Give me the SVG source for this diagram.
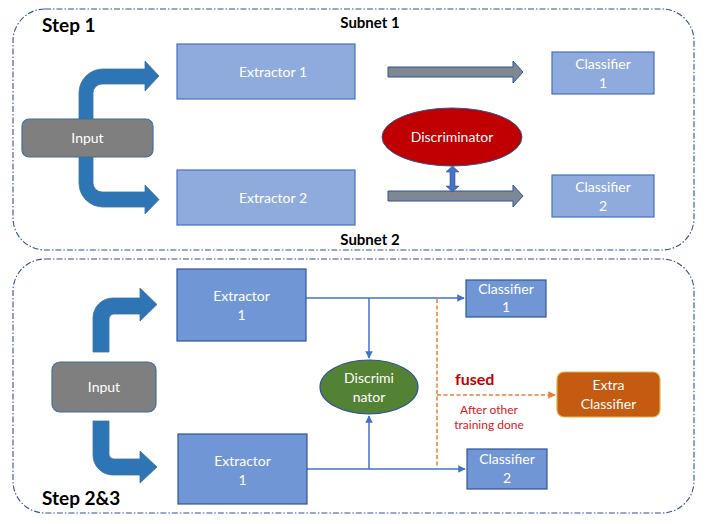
<svg xmlns="http://www.w3.org/2000/svg" width="706" height="524" viewBox="0 0 706 524">
<defs>
<style>
.frame{fill:none;stroke:#2F5597;stroke-width:1.1;stroke-dasharray:6 2 1.5 2}
.t{font-family:Lato,"Open Sans","Liberation Sans",sans-serif}
.w{fill:#fff;font-size:14px;text-anchor:middle}
.b{font-weight:bold;fill:#000}
.ext1{fill:#8FAADC;stroke:#4472C4;stroke-width:1.2}
.ext2{fill:#7196D5;stroke:#2F5597;stroke-width:1.2}
.bent{fill:#2E75B6;stroke:#41719C;stroke-width:0.8}
.gray{fill:#7F8792;stroke:#2F5597;stroke-width:1}
.ln{stroke:#4472C4;stroke-width:1.5;fill:none}
.dash{stroke:#ED7D31;stroke-width:1.5;fill:none;stroke-dasharray:4 2.5}
</style>
<marker id="ab" viewBox="0 0 10 10" refX="9" refY="5" markerWidth="5" markerHeight="5" orient="auto"><path d="M0,0 L10,5 L0,10 Z" fill="#4472C4"/></marker>
<marker id="ao" viewBox="0 0 10 10" refX="9" refY="5" markerWidth="5" markerHeight="5" orient="auto"><path d="M0,0 L10,5 L0,10 Z" fill="#ED7D31"/></marker>
</defs>
<rect width="706" height="524" fill="#fff"/>
<rect class="frame" x="13" y="9" width="681" height="241" rx="32"/>
<rect class="frame" x="13" y="259" width="681" height="254" rx="32"/>
<text class="t b" x="42" y="32" font-size="19">Step 1</text>
<text class="t b" x="42" y="505" font-size="19">Step 2&amp;3</text>
<text class="t b" x="370" y="28" font-size="15" text-anchor="middle">Subnet 1</text>
<text class="t b" x="370" y="245" font-size="15" text-anchor="middle">Subnet 2</text>

<g id="connectors">
<path class="bent" d="M79,119 V93 A24,24 0 0 1 103,69 H145 V61 L159,76 L145,91 V84 H102 A9,9 0 0 0 93,93 V119 Z"/>
<path class="bent" d="M79,157 V183 A24,24 0 0 0 103,207 H145 V214 L159,199.5 L145,185 V192 H102 A9,9 0 0 1 93,183 V157 Z"/>
<path class="gray" d="M388,67 H513 V61 L523,72 L513,83 V77 H388 Z"/>
<path class="gray" d="M388,191 H513 V185 L523,196 L513,207 V201 H388 Z"/>
<path d="M452.5,166 L459,172 H455 V186 H459 L452.5,192 L446,186 H450 V172 H446 Z" fill="#4472C4" stroke="#2F5597" stroke-width="0.6"/>
<path class="bent" d="M93,352 V318 A20,20 0 0 1 113,298 H140 V288 L157,304.5 L140,321 V314 H114 A5,5 0 0 0 109,319 V352 Z"/>
<path class="bent" d="M93,421 V455 A20,20 0 0 0 113,475 H140 V483 L157,467 L140,451 V459 H114 A5,5 0 0 1 109,454 V421 Z"/>
<path class="ln" d="M306,298 H464" marker-end="url(#ab)"/>
<path class="ln" d="M369,298 V358" marker-end="url(#ab)"/>
<path class="ln" d="M307,469 H465" marker-end="url(#ab)"/>
<path class="ln" d="M369,469 V416" marker-end="url(#ab)"/>
<path class="dash" d="M437,299 V468"/>
<path class="dash" d="M437,395 H555" marker-end="url(#ao)"/>
</g>

<g id="input1"><rect x="22" y="119" width="131" height="38" rx="7" fill="#7F7F7F" stroke="#41719C" stroke-width="1.2"/><text class="t w" x="87.5" y="143">Input</text></g>
<g id="extractor1"><rect class="ext1" x="177" y="44" width="178" height="55"/><text class="t w" x="273" y="77">Extractor 1</text></g>
<g id="extractor2"><rect class="ext1" x="177" y="170" width="178" height="55"/><text class="t w" x="273" y="203">Extractor 2</text></g>
<g id="discriminator1"><ellipse cx="452" cy="137" rx="70" ry="29" fill="#C00000" stroke="#2F5597" stroke-width="1"/><text class="t w" x="452" y="142" font-size="15">Discriminator</text></g>
<g id="classifier1"><rect class="ext1" x="552" y="52" width="102" height="42"/><text class="t w" x="603" y="69">Classifier</text><text class="t w" x="603" y="88">1</text></g>
<g id="classifier2"><rect class="ext1" x="552" y="175" width="102" height="42"/><text class="t w" x="603" y="192">Classifier</text><text class="t w" x="603" y="211">2</text></g>

<g id="input2"><rect x="52" y="362" width="104" height="50" rx="8" fill="#7F7F7F" stroke="#41719C" stroke-width="1.2"/><text class="t w" x="104" y="392">Input</text></g>
<g id="extractor1b"><rect class="ext2" x="177" y="269" width="129" height="72"/><text class="t w" x="241.5" y="301">Extractor</text><text class="t w" x="241.5" y="320">1</text></g>
<g id="extractor1c"><rect class="ext2" x="178" y="434" width="129" height="70"/><text class="t w" x="242.5" y="466">Extractor</text><text class="t w" x="242.5" y="485">1</text></g>
<g id="discriminator2"><ellipse cx="369" cy="387" rx="49" ry="27" fill="#548235" stroke="#2F5597" stroke-width="1.2"/><text class="t w" x="369" y="383">Discrimi</text><text class="t w" x="369" y="402">nator</text></g>
<g id="classifier1b"><rect class="ext2" x="466" y="280" width="80" height="37"/><text class="t w" x="506" y="294">Classifier</text><text class="t w" x="506" y="312">1</text></g>
<g id="classifier2b"><rect class="ext2" x="467" y="449" width="80" height="40"/><text class="t w" x="507" y="464">Classifier</text><text class="t w" x="507" y="483">2</text></g>
<g id="extra"><rect x="557" y="372" width="103" height="45" rx="7" fill="#C55A11" stroke="#E3B448" stroke-width="1.2"/><text class="t w" x="608.5" y="390">Extra</text><text class="t w" x="608.5" y="409">Classifier</text></g>
<text class="t" x="455" y="385" font-size="16" font-weight="bold" fill="#C00000">fused</text>
<text class="t" x="489" y="414" font-size="12" fill="#D42020" text-anchor="middle">After other</text>
<text class="t" x="489" y="429" font-size="12" fill="#D42020" text-anchor="middle">training done</text>
</svg>
